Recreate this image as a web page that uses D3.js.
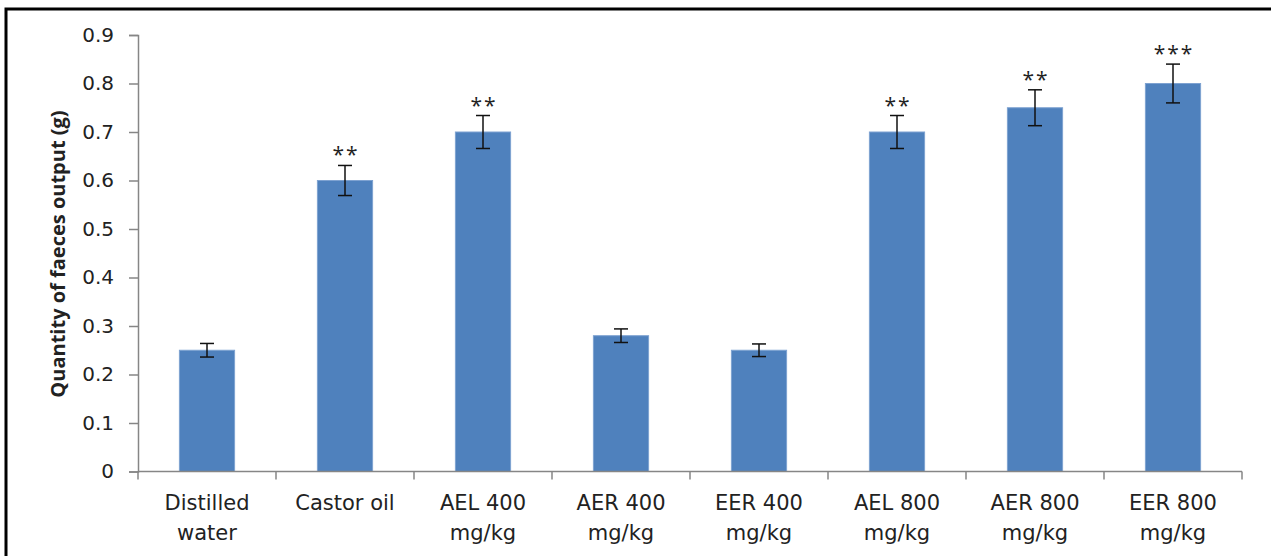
<!DOCTYPE html>
<html>
<head>
<meta charset="utf-8">
<script src="https://cdn.jsdelivr.net/npm/d3@7"></script>
<style>
  body { margin: 0; background: #fff; }
  svg { display: block; }
  text { font-family: "DejaVu Sans", "Open Sans", sans-serif; fill: #222; }
</style>
</head>
<body>
<svg id="chart" width="1271" height="556"></svg>
<script>
var categories = [["Distilled", "water"], ["Castor oil"], ["AEL 400", "mg/kg"], ["AER 400", "mg/kg"],
  ["EER 400", "mg/kg"], ["AEL 800", "mg/kg"], ["AER 800", "mg/kg"], ["EER 800", "mg/kg"]];
var means = [0.25, 0.60, 0.70, 0.28, 0.25, 0.70, 0.75, 0.80];
var errors = [0.014, 0.031, 0.034, 0.014, 0.013, 0.034, 0.037, 0.04];
var stars = ["", "**", "**", "", "", "**", "**", "***"];
var yTicks = [0, 0.1, 0.2, 0.3, 0.4, 0.5, 0.6, 0.7, 0.8, 0.9];

var svg = d3.select("#chart");

// frame around the figure
svg.append("rect")
  .attr("x", 6).attr("y", 9)
  .attr("width", 1400).attr("height", 700)
  .attr("fill", "none").attr("stroke", "#000").attr("stroke-width", 3);

var plotLeft = 138, plotRight = 1242, plotTop = 35, plotBottom = 471.5;

var x = d3.scaleBand().domain(d3.range(categories.length)).range([plotLeft, plotRight]).paddingInner(0.6).paddingOuter(0.3);
var xb = d3.scaleBand().domain(d3.range(categories.length)).range([plotLeft, plotRight]);
var y = d3.scaleLinear().domain([0, 0.9]).range([plotBottom, plotTop]);

// y axis
var yAxis = svg.append("g")
  .attr("transform", "translate(" + plotLeft + ",0)")
  .call(d3.axisLeft(y).tickValues(yTicks).tickSize(9).tickPadding(15).tickFormat(d3.format("~g")));
yAxis.select(".domain").attr("stroke", "#868686").attr("stroke-width", 1.5);
yAxis.selectAll(".tick line").attr("stroke", "#868686").attr("stroke-width", 1.5);
yAxis.selectAll(".tick text")
  .style("font-family", "DejaVu Sans")
  .style("font-size", "20px").attr("fill", "#222");

// bars
svg.selectAll(".bar")
  .data(means)
  .enter().append("rect")
  .attr("class", "bar")
  .attr("x", function (d, i) { return x(i); })
  .attr("y", function (d) { return y(d); })
  .attr("width", x.bandwidth())
  .attr("height", function (d) { return plotBottom - y(d); })
  .attr("fill", "#4F81BD")
  .attr("stroke", "#7EA2D1")
  .attr("stroke-width", 1);

// error bars
var eb = svg.selectAll(".err")
  .data(means)
  .enter().append("g")
  .attr("class", "err")
  .attr("stroke", "#111")
  .attr("stroke-width", 1.5);
eb.append("line")
  .attr("x1", function (d, i) { return x(i) + x.bandwidth() / 2; })
  .attr("x2", function (d, i) { return x(i) + x.bandwidth() / 2; })
  .attr("y1", function (d, i) { return y(d + errors[i]); })
  .attr("y2", function (d, i) { return y(d - errors[i]); });
eb.append("line")
  .attr("x1", function (d, i) { return x(i) + x.bandwidth() / 2 - 7; })
  .attr("x2", function (d, i) { return x(i) + x.bandwidth() / 2 + 7; })
  .attr("y1", function (d, i) { return y(d + errors[i]); })
  .attr("y2", function (d, i) { return y(d + errors[i]); });
eb.append("line")
  .attr("x1", function (d, i) { return x(i) + x.bandwidth() / 2 - 7; })
  .attr("x2", function (d, i) { return x(i) + x.bandwidth() / 2 + 7; })
  .attr("y1", function (d, i) { return y(d - errors[i]); })
  .attr("y2", function (d, i) { return y(d - errors[i]); });

// significance stars
svg.selectAll(".star")
  .data(stars)
  .enter().append("text")
  .attr("class", "star")
  .attr("x", function (d, i) { return x(i) + x.bandwidth() / 2 + 1; })
  .attr("y", function (d, i) { return y(means[i] + errors[i]) - 3; })
  .attr("text-anchor", "middle")
  .style("font-family", "Open Sans")
  .style("font-size", "21px")
  .style("letter-spacing", "2px")
  .attr("fill", "#111")
  .text(function (d) { return d; });

// x axis
var xAxis = svg.append("g")
  .attr("transform", "translate(0," + plotBottom + ")");
xAxis.append("line")
  .attr("x1", plotLeft).attr("x2", plotRight)
  .attr("stroke", "#868686").attr("stroke-width", 1.5);
xAxis.selectAll(".xt")
  .data(d3.range(categories.length + 1))
  .enter().append("line")
  .attr("x1", function (i) { return plotLeft + i * xb.bandwidth(); })
  .attr("x2", function (i) { return plotLeft + i * xb.bandwidth(); })
  .attr("y1", 0).attr("y2", 8)
  .attr("stroke", "#868686").attr("stroke-width", 1.5);
var labels = xAxis.selectAll(".xl")
  .data(categories)
  .enter().append("text")
  .attr("class", "xl")
  .attr("text-anchor", "middle")
  .style("font-size", "21px")
  .attr("transform", function (d, i) { return "translate(" + (xb(i) + xb.bandwidth() / 2) + ",38.5)"; });
labels.selectAll("tspan")
  .data(function (d) { return d; })
  .enter().append("tspan")
  .attr("x", 0)
  .attr("dy", function (d, j) { return j === 0 ? 0 : 30; })
  .text(function (d) { return d; });

// y title
svg.append("text")
  .attr("transform", "translate(65,254) rotate(-90)")
  .attr("text-anchor", "middle")
  .style("font-family", "Open Sans")
  .style("font-size", "20px")
  .style("font-weight", "bold")
  .attr("fill", "#000")
  .text("Quantity of faeces output (g)");
</script>
</body>
</html>
